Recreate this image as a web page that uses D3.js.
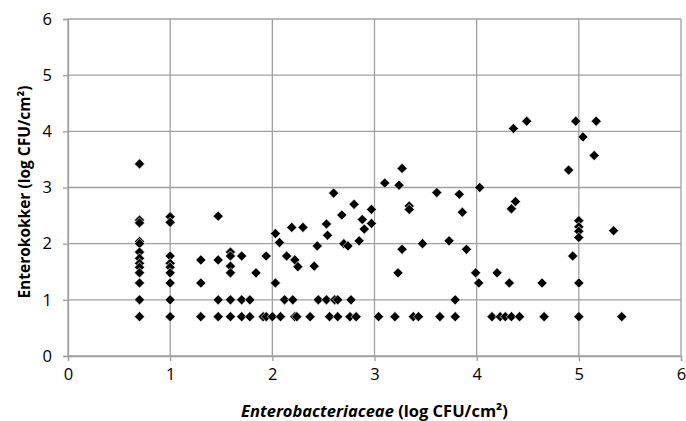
<!DOCTYPE html>
<html>
<head>
<meta charset="utf-8">
<script src="https://cdn.jsdelivr.net/npm/d3@7"></script>
<style>
  body { margin: 0; background: #fff; }
  text { font-family: "Open Sans", "Liberation Sans", sans-serif; }
</style>
</head>
<body>
<svg id="chart" width="686" height="421"></svg>
<script>
// Enterobacteriaceae (x) vs Enterokokker (y), log CFU/cm2
const enterobact = [
  0.7, 0.7, 0.7, 0.7, 0.7, 0.7, 0.7, 0.7, 0.7, 0.7, 0.7, 0.7, 0.7,
  1.0, 1.0, 1.0, 1.0, 1.0, 1.0, 1.0, 1.0, 1.0,
  1.30, 1.30, 1.30,
  1.47, 1.47, 1.47, 1.47,
  1.59, 1.59, 1.59, 1.59, 1.59, 1.59,
  1.70, 1.70, 1.70,
  1.78, 1.78,
  1.84, 1.94, 2.03, 2.03, 2.07, 2.14, 2.22, 2.25, 2.19, 2.30, 2.41, 2.44,
  2.53, 2.54, 2.60, 2.68, 2.70, 2.74, 2.80, 2.85, 2.88, 2.90, 2.97, 2.97,
  3.10, 3.24, 3.27, 3.27, 3.23, 3.34, 3.34, 3.47, 3.61, 3.73, 3.79, 3.83,
  3.86, 3.90, 3.99, 4.02, 4.03, 4.20, 4.32, 4.34, 4.38, 4.36, 4.49, 4.64,
  4.90, 4.94, 4.97, 5.0, 5.0, 5.0, 5.0, 5.0, 5.0, 5.04, 5.15, 5.17, 5.34, 5.42,
  2.12, 2.20, 2.45, 2.53, 2.61, 2.64, 2.77,
  1.91, 1.94, 2.00, 2.08, 2.22, 2.24, 2.37, 2.56, 2.64, 2.76, 2.82, 3.04,
  3.20, 3.38, 3.43, 3.64, 3.79, 4.15, 4.23, 4.28, 4.34, 4.42, 4.66
];
const enterokokker = [
  3.42, 2.42, 2.37, 2.04, 2.00, 1.85, 1.74, 1.65, 1.58, 1.48, 1.30, 1.00, 0.70,
  2.48, 2.38, 1.78, 1.65, 1.58, 1.48, 1.30, 1.00, 0.70,
  1.71, 1.30, 0.70,
  2.49, 1.71, 1.00, 0.70,
  1.85, 1.78, 1.60, 1.48, 1.00, 0.70,
  1.78, 1.00, 0.70,
  1.00, 0.70,
  1.48, 1.78, 2.18, 1.30, 2.02, 1.78, 1.71, 1.59, 2.29, 2.29, 1.60, 1.96,
  2.35, 2.15, 2.90, 2.51, 2.00, 1.96, 2.70, 2.05, 2.43, 2.26, 2.61, 2.36,
  3.08, 3.04, 3.34, 1.90, 1.48, 2.67, 2.61, 2.00, 2.91, 2.05, 1.00, 2.88,
  2.56, 1.90, 1.48, 1.30, 3.00, 1.48, 1.30, 2.62, 2.75, 4.05, 4.18, 1.30,
  3.31, 1.78, 4.18, 2.41, 2.30, 2.22, 2.11, 1.30, 0.70, 3.90, 3.57, 4.18, 2.23, 0.70,
  1.00, 1.00, 1.00, 1.00, 1.00, 1.00, 1.00,
  0.70, 0.70, 0.70, 0.70, 0.70, 0.70, 0.70, 0.70, 0.70, 0.70, 0.70, 0.70,
  0.70, 0.70, 0.70, 0.70, 0.70, 0.70, 0.70, 0.70, 0.70, 0.70, 0.70
];
const xTicks = [0, 1, 2, 3, 4, 5, 6];
const yTicks = [0, 1, 2, 3, 4, 5, 6];

const data = enterobact.map((v, i) => ({ x: v, y: enterokokker[i] }));

const margin = { top: 19, right: 5, bottom: 65, left: 68 };
const svg = d3.select("#chart");
const width = 686 - margin.left - margin.right;
const height = 421 - margin.top - margin.bottom;

const x = d3.scaleLinear().domain([0, 6]).range([0, width]);
const y = d3.scaleLinear().domain([0, 6]).range([height, 0]);

const g = svg.append("g")
  .attr("transform", "translate(" + margin.left + "," + margin.top + ")");

// grille
g.append("g").selectAll("line")
  .data(xTicks)
  .enter().append("line")
  .attr("x1", d => x(d)).attr("x2", d => x(d))
  .attr("y1", 0).attr("y2", height)
  .attr("stroke", "#a0a0a0").attr("stroke-width", 1.3);
g.append("g").selectAll("line")
  .data(yTicks)
  .enter().append("line")
  .attr("x1", 0).attr("x2", width)
  .attr("y1", d => y(d)).attr("y2", d => y(d))
  .attr("stroke", "#a0a0a0").attr("stroke-width", 1.3);

// axes
const xAxis = d3.axisBottom(x).tickValues(xTicks).tickFormat(d3.format("d")).tickSize(5).tickPadding(7);
const yAxis = d3.axisLeft(y).tickValues(yTicks).tickFormat(d3.format("d")).tickSize(5).tickPadding(11);

const gx = g.append("g").attr("transform", "translate(0," + height + ")").call(xAxis);
const gy = g.append("g").call(yAxis);
[gx, gy].forEach(a => {
  a.select(".domain").attr("stroke", "#a0a0a0").attr("stroke-width", 1.3);
  a.selectAll(".tick line").attr("stroke", "#a0a0a0").attr("stroke-width", 1.3);
  a.selectAll(".tick text")
    .attr("fill", "#000")
    .style("font-size", "16.5px")
    .style("font-family", "'Open Sans', sans-serif");
});

// points
const diamond = d3.symbol().type(d3.symbolSquare).size(52);
g.append("g").selectAll("path")
  .data(data)
  .enter().append("path")
  .attr("d", diamond)
  .attr("transform", d => "translate(" + x(d.x) + "," + y(d.y) + ") rotate(45)")
  .attr("fill", "#000")
  .attr("stroke", "#fff")
  .attr("stroke-width", 0.6);

// titres des axes
const xTitle = svg.append("text")
  .attr("x", margin.left + width / 2)
  .attr("y", 417)
  .attr("text-anchor", "middle")
  .style("font-size", "16.5px")
  .style("font-weight", "bold");
xTitle.append("tspan").style("font-style", "italic").text("Enterobacteriaceae");
xTitle.append("tspan").text(" (log CFU/cm²)");

svg.append("text")
  .attr("transform", "translate(30,192) rotate(-90)")
  .attr("text-anchor", "middle")
  .style("font-size", "15.5px")
  .style("font-weight", "bold")
  .text("Enterokokker (log CFU/cm²)");
</script>
</body>
</html>
